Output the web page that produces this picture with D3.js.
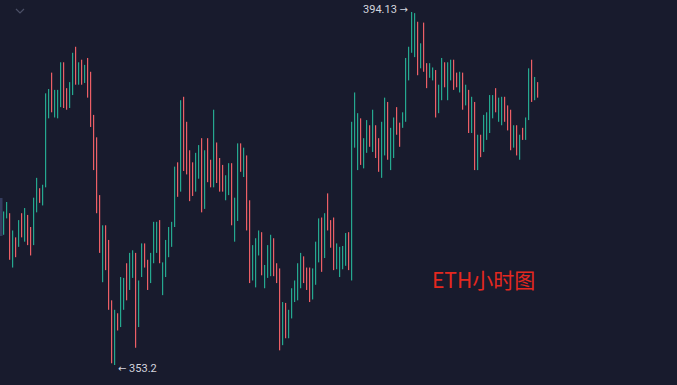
<!DOCTYPE html>
<html>
<head>
<meta charset="utf-8">
<script src="https://cdn.jsdelivr.net/npm/d3@7"></script>
<style>
  html, body { margin: 0; padding: 0; background: #181b2d; }
  svg { display: block; }
</style>
</head>
<body>
<svg id="chart" width="677" height="385"></svg>
<script>
// hourly ETH candles (open / close per candle)
var opens = [
  368.3, 370.2, 370.8, 364.5, 368.0, 366.9, 370.8, 367.5, 370.6, 369.2,
  367.1, 370.9, 373.7, 371.7, 373.8, 381.8, 387.1, 381.9, 381.8, 383.1,
  388.3, 385.3, 383.0, 384.5, 390.1, 385.7, 388.6, 385.9, 388.8, 387.2,
  382.2, 379.6, 372.9, 362.8, 369.4, 367.7, 360.7, 353.2, 359.2, 357.6,
  359.6, 365.0, 361.9, 363.3, 366.2, 357.6, 363.4, 367.3, 365.4, 362.7,
  365.0, 366.2, 370.0, 361.3, 363.4, 365.7, 366.9, 369.2, 376.7, 373.3,
  384.3, 381.4, 378.1, 376.7, 373.3, 374.8, 379.5, 371.3, 379.5, 377.0,
  373.8, 379.0, 377.2, 376.4, 372.3, 372.9, 376.6, 367.5, 369.9, 378.9,
  375.0, 377.5, 372.3, 363.0, 362.2, 365.9, 368.6, 362.1, 363.3, 363.5,
  367.9, 365.0, 364.4, 355.5, 360.4, 356.3, 358.6, 360.5, 360.7, 362.1,
  365.8, 364.5, 364.5, 360.8, 362.5, 365.1, 370.3, 365.6, 373.1, 370.0,
  370.3, 364.3, 363.4, 364.3, 364.7, 368.6, 363.0, 378.4, 375.8, 381.8,
  376.0, 377.8, 381.0, 377.9, 381.0, 379.5, 374.9, 377.5, 383.7, 375.8,
  377.2, 383.1, 381.3, 380.7, 381.4, 386.2, 389.4, 388.9, 393.0, 387.6,
  392.9, 388.2, 386.5, 386.2, 387.4, 382.4, 383.9, 388.3, 383.9, 386.2,
  388.6, 387.1, 384.8, 387.1, 383.3, 385.1, 380.1, 383.7, 375.8, 379.9,
  377.9, 379.3, 380.1, 381.8, 385.3, 381.4, 381.0, 384.3, 383.3, 382.8,
  378.4, 381.0, 377.0, 380.7, 379.3, 381.6, 388.6, 383.9, 386.0
];
var closes = [
  371.0, 372.1, 365.4, 368.8, 365.7, 370.0, 368.0, 371.4, 367.1, 365.9,
  372.6, 374.9, 372.0, 374.1, 384.7, 385.2, 382.5, 385.1, 385.1, 388.3,
  383.0, 382.8, 386.0, 389.4, 385.7, 388.3, 385.7, 388.0, 384.2, 380.8,
  375.8, 370.8, 366.2, 369.4, 364.2, 359.6, 353.4, 359.6, 357.2, 363.4,
  363.3, 360.7, 366.2, 366.5, 355.2, 363.0, 367.3, 364.5, 361.9, 366.2,
  369.8, 369.8, 365.0, 365.1, 367.7, 369.2, 369.8, 376.2, 372.7, 383.9,
  375.7, 375.3, 372.2, 372.8, 377.8, 378.7, 370.9, 378.1, 374.4, 373.8,
  382.8, 374.3, 373.3, 373.3, 375.2, 376.6, 369.4, 372.6, 378.9, 375.6,
  378.4, 368.8, 362.7, 367.1, 367.9, 368.8, 363.6, 364.8, 367.1, 368.3,
  363.5, 362.7, 354.9, 360.5, 356.3, 359.6, 362.1, 363.0, 365.0, 366.2,
  362.7, 361.9, 360.5, 364.4, 367.5, 370.2, 364.0, 370.8, 368.8, 366.8,
  364.2, 367.3, 366.9, 367.0, 368.5, 364.2, 381.4, 384.8, 382.4, 376.4,
  379.5, 381.6, 378.5, 382.8, 377.2, 375.6, 381.4, 384.2, 377.0, 380.7,
  381.9, 379.9, 378.5, 382.5, 388.8, 390.1, 394.13, 394.0, 386.8, 390.5,
  387.2, 385.3, 388.2, 387.7, 381.9, 385.7, 388.8, 385.4, 388.3, 388.6,
  385.1, 385.4, 387.2, 382.8, 385.7, 380.1, 384.3, 375.8, 379.9, 377.3,
  382.2, 382.5, 384.5, 384.5, 382.5, 384.2, 384.3, 381.4, 380.4, 378.1,
  381.0, 377.5, 379.9, 379.3, 381.9, 387.6, 383.7, 386.6, 384.2
];
var title = "ETH小时图";

var n = opens.length;
var data = opens.map(function (o, i) { return { i: i, open: o, close: closes[i] }; });

var svg = d3.select("#chart"),
  width = +svg.attr("width"),
  height = +svg.attr("height");

var upColor = "#25a88f",
  downColor = "#ec5f66",
  labelFont = "Roboto, 'Noto Sans', sans-serif",
  arrowFont = "'DejaVu Sans', sans-serif";

svg.append("rect")
  .attr("width", width)
  .attr("height", height)
  .attr("fill", "#181b2d");

var x = d3.scaleLinear()
  .domain([0, n - 1])
  .range([3.3, 537.3]);

var hi = d3.max(data, function (d) { return Math.max(d.open, d.close); }),
  lo = d3.min(data, function (d) { return Math.min(d.open, d.close); });

var y = d3.scaleLinear()
  .domain([lo, hi])
  .range([365, 12]);

// little collapse chevron in the corner
svg.append("path")
  .attr("d", "M16,9 L20,13 L24,9")
  .attr("fill", "none")
  .attr("stroke", "#4b5066")
  .attr("stroke-width", 1.2);

// sliver of something cut off at the left edge
svg.append("rect")
  .attr("x", 0)
  .attr("y", 198)
  .attr("width", 2.5)
  .attr("height", 38)
  .attr("fill", "#343c5e");

var g = svg.append("g");

g.selectAll("rect.candle")
  .data(data)
  .enter().append("rect")
  .attr("class", "candle")
  .attr("x", function (d) { return Math.round(x(d.i)); })
  .attr("width", 1.2)
  .attr("y", function (d) { return y(Math.max(d.open, d.close)); })
  .attr("height", function (d) { return Math.max(1, Math.abs(y(d.open) - y(d.close))); })
  .attr("fill", function (d) { return d.close >= d.open ? upColor : downColor; });

// max / min markers
var hiD = data.find(function (d) { return Math.max(d.open, d.close) === hi; }),
  loD = data.find(function (d) { return Math.min(d.open, d.close) === lo; });

var hiText = svg.append("text")
  .attr("x", Math.round(x(hiD.i)) - 3)
  .attr("y", y(hi) - 2)
  .attr("text-anchor", "end")
  .attr("dominant-baseline", "middle")
  .attr("font-family", labelFont)
  .attr("font-size", 11)
  .attr("fill", "#d3d5de");
hiText.append("tspan").text(hi + " ");
hiText.append("tspan").attr("font-family", arrowFont).attr("font-size", 10).text("→");

var loText = svg.append("text")
  .attr("x", Math.round(x(loD.i)) + 4)
  .attr("y", y(lo) + 4)
  .attr("text-anchor", "start")
  .attr("dominant-baseline", "middle")
  .attr("font-family", labelFont)
  .attr("font-size", 11)
  .attr("fill", "#d3d5de");
loText.append("tspan").attr("font-family", arrowFont).attr("font-size", 10).text("←");
loText.append("tspan").text(" " + lo);

svg.append("text")
  .attr("x", 432)
  .attr("y", 288)
  .attr("font-family", "'Noto Sans CJK SC', 'Noto Sans', sans-serif")
  .attr("font-size", 21)
  .attr("fill", "#e4281f")
  .text(title);
</script>
</body>
</html>
